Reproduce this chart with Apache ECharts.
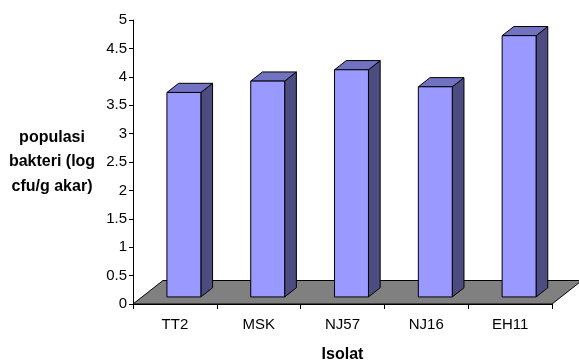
<!DOCTYPE html>
<html>
<head>
<meta charset="utf-8">
<script src="https://cdn.jsdelivr.net/npm/echarts@6/dist/echarts.min.js"></script>
<style>
  html, body { margin: 0; padding: 0; background: #ffffff; }
  #chart { width: 579px; height: 362px; }
</style>
</head>
<body>
<div id="chart"></div>
<script>
// Bacterial population per isolate (log cfu/g root)
const categories = ['TT2', 'MSK', 'NJ57', 'NJ16', 'EH11'];
const populasi = [3.6, 3.8, 4.0, 3.7, 4.6];
const yTicks = { min: 0, max: 5, interval: 0.5 };
const yTitle = 'populasi\nbakteri (log\ncfu/g akar)';
const xTitle = 'Isolat';

const FONT = '"Liberation Sans", Arial, sans-serif';

// Oblique projection used for the pseudo-3D look
const DEPTH = { x: 30, y: -23.5 };   // full floor depth
const BAR_FRONT = 0.3;                // bar front face position along depth
const BAR_BACK = 0.69;                // bar back face position along depth
const BAR_WIDTH = 0.405;              // fraction of category band

const COLORS = {
  front: '#9999FF',
  top: '#7272C2',
  side: '#4C4C80',
  floor: '#808080',
  edge: '#000000'
};

function pt(x, y, f) {
  return [x + DEPTH.x * f, y + DEPTH.y * f];
}

const titleStyle = {
  fontFamily: FONT,
  fontSize: 16,
  fontWeight: 'bold',
  fill: '#000',
  align: 'center',
  verticalAlign: 'middle',
  lineHeight: 24.5
};

const chart = echarts.init(document.getElementById('chart'), null, { renderer: 'canvas' });

chart.setOption({
  backgroundColor: '#ffffff',
  animation: false,
  grid: { left: 133, right: 27, top: 20, bottom: 58, containLabel: false, outerBoundsMode: 'none' },
  graphic: [
    { type: 'text', x: 52, y: 162, silent: true, style: Object.assign({ text: yTitle }, titleStyle) },
    { type: 'text', x: 342.5, y: 355, silent: true, style: Object.assign({ text: xTitle }, titleStyle) }
  ],
  xAxis: {
    type: 'category',
    data: categories,
    boundaryGap: true,
    axisLine: { show: true, lineStyle: { color: '#000', width: 1 } },
    axisTick: { show: true, length: 5, lineStyle: { color: '#000' } },
    axisLabel: { fontFamily: FONT, fontSize: 15, color: '#000', margin: 13 },
    splitLine: { show: false }
  },
  yAxis: {
    type: 'value',
    min: yTicks.min,
    max: yTicks.max,
    interval: yTicks.interval,
    axisLine: { show: true, lineStyle: { color: '#000', width: 1 } },
    axisTick: { show: true, length: 4, inside: false, lineStyle: { color: '#000' } },
    axisLabel: { fontFamily: FONT, fontSize: 15, color: '#000', margin: 6 },
    splitLine: { show: false }
  },
  series: [
    {
      // floor plane
      type: 'custom',
      silent: true,
      z: 1,
      data: [0],
      renderItem: function (params, api) {
        const cs = params.coordSys;
        const y0 = api.coord([0, 0])[1];
        const xl = cs.x, xr = cs.x + cs.width;
        return {
          type: 'polygon',
          shape: { points: [[xl, y0], [xr, y0], pt(xr, y0, 1), pt(xl, y0, 1)] },
          style: { fill: COLORS.floor, stroke: COLORS.edge, lineWidth: 1 }
        };
      }
    },
    {
      // pseudo-3D columns
      type: 'custom',
      z: 2,
      data: populasi.map((v, i) => [i, v]),
      encode: { x: 0, y: 1 },
      renderItem: function (params, api) {
        const i = api.value(0);
        const top = api.coord([i, api.value(1)]);
        const base = api.coord([i, 0]);
        const w = api.size([1, 0])[0] * BAR_WIDTH;
        const xl = top[0] - w / 2, xr = top[0] + w / 2;
        const fa = BAR_FRONT, fb = BAR_BACK;
        const frontPts = [pt(xl, base[1], fa), pt(xr, base[1], fa), pt(xr, top[1], fa), pt(xl, top[1], fa)];
        const sidePts = [pt(xr, base[1], fa), pt(xr, base[1], fb), pt(xr, top[1], fb), pt(xr, top[1], fa)];
        const topPts = [pt(xl, top[1], fa), pt(xr, top[1], fa), pt(xr, top[1], fb), pt(xl, top[1], fb)];
        const st = (fill) => ({ fill: fill, stroke: COLORS.edge, lineWidth: 1, lineJoin: 'miter' });
        return {
          type: 'group',
          children: [
            { type: 'polygon', shape: { points: sidePts }, style: st(COLORS.side) },
            { type: 'polygon', shape: { points: topPts }, style: st(COLORS.top) },
            { type: 'polygon', shape: { points: frontPts }, style: st(COLORS.front) }
          ]
        };
      }
    }
  ]
});
</script>
</body>
</html>
